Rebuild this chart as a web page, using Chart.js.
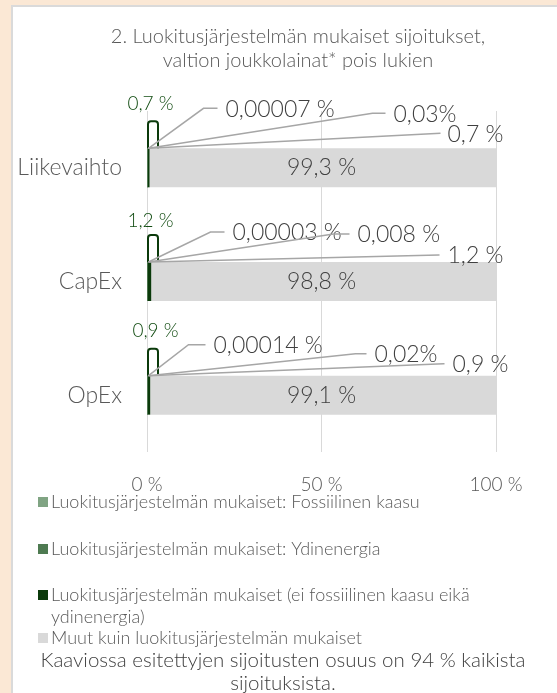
<!DOCTYPE html>
<html lang="fi">
<head>
<meta charset="UTF-8">
<title>Luokitusjärjestelmän mukaiset sijoitukset</title>
<script src="https://cdn.jsdelivr.net/npm/chart.js@4.4.1/dist/chart.umd.min.js"></script>
<style>
  html, body { margin: 0; padding: 0; background: #fbe8d5; }
  canvas { display: block; }
</style>
</head>
<body>
<canvas id="chart" width="557" height="693"></canvas>
<script>
// data
const categories = ['Liikevaihto', 'CapEx', 'OpEx'];
const fossilGas = [0.00007, 0.00003, 0.00014];
const nuclear = [0.03, 0.008, 0.02];
const alignedOther = [0.7, 1.2, 0.9];
const notAligned = [99.3, 98.8, 99.1];

const fossilLabels = ['0,00007 %', '0,00003 %', '0,00014 %'];
const nuclearLabels = ['0,03%', '0,008 %', '0,02%'];
const alignedLabels = ['0,7 %', '1,2 %', '0,9 %'];
const notAlignedLabels = ['99,3 %', '98,8 %', '99,1 %'];
const xTicks = [0, 50, 100];

const seriesNames = [
  'Luokitusjärjestelmän mukaiset: Fossiilinen kaasu',
  'Luokitusjärjestelmän mukaiset: Ydinenergia',
  'Luokitusjärjestelmän mukaiset (ei fossiilinen kaasu eikä ydinenergia)',
  'Muut kuin luokitusjärjestelmän mukaiset'
];
const titleLines = ['2. Luokitusjärjestelmän mukaiset sijoitukset,', 'valtion joukkolainat* pois lukien'];
const footLines = ['Kaaviossa esitettyjen sijoitusten osuus on 94 % kaikista', 'sijoituksista.'];

// label placement (px from bar start / bar top): elbow dx, elbow dy, text dx
const calloutLayout = [
  [[56, -40, 78], [225, -35, 246], [293, -15, 300]],
  [[63, -30, 85], [186, -28, 210], [291, -7, 300]],
  [[41, -31, 66], [208, -22, 227], [296, -12, 305]]
];
const greenLabelOffset = [[3, -44], [3, -41], [8, -45]];

const FONT = 'Lato';
const GREY = '#595959';
const DARK = '#404040';

Chart.defaults.font.family = FONT;

const panel = {
  id: 'panel',
  beforeDraw(chart) {
    const ctx = chart.ctx;
    ctx.save();
    ctx.fillStyle = '#fbe8d5';
    ctx.fillRect(0, 0, chart.width, chart.height);
    ctx.fillStyle = '#dadada';
    ctx.fillRect(11, 5, chart.width - 11, chart.height - 5);
    ctx.fillStyle = '#ffffff';
    ctx.fillRect(13, 7, chart.width - 13, chart.height - 7);
    ctx.restore();
  }
};

const callouts = {
  id: 'callouts',
  afterDatasetsDraw(chart) {
    const ctx = chart.ctx;
    const sets = [fossilLabels, nuclearLabels, alignedLabels];
    const first = chart.getDatasetMeta(0);
    const last = chart.getDatasetMeta(3);
    const area = chart.chartArea;
    ctx.save();
    categories.forEach((c, i) => {
      const bar = first.data[i];
      const x0 = bar.base;
      const top = bar.y - bar.height / 2;

      // outline of the aligned segment sticking out above the bar
      ctx.strokeStyle = '#0b3a0b';
      ctx.lineWidth = 2;
      ctx.beginPath();
      ctx.moveTo(x0 + 0.5, top);
      ctx.lineTo(x0 + 0.5, top - 24);
      ctx.quadraticCurveTo(x0 + 0.5, top - 27, x0 + 3.5, top - 27);
      ctx.lineTo(x0 + 7.5, top - 27);
      ctx.quadraticCurveTo(x0 + 10.5, top - 27, x0 + 10.5, top - 24);
      ctx.lineTo(x0 + 10.5, top);
      ctx.stroke();

      sets.forEach((labels, d) => {
        const [ex, ey, tx] = calloutLayout[i][d];
        ctx.strokeStyle = '#a6a6a6';
        ctx.lineWidth = 1.5;
        ctx.beginPath();
        ctx.moveTo(x0 + 1, top);
        ctx.lineTo(x0 + ex, top + ey);
        ctx.lineTo(x0 + Math.max(ex, tx - 8), top + ey);
        ctx.stroke();
        ctx.fillStyle = DARK;
        ctx.font = '300 23px ' + FONT;
        ctx.textAlign = 'left';
        ctx.textBaseline = 'middle';
        ctx.fillText(labels[i], x0 + tx, top + ey + 1);
      });

      const [gx, gy] = greenLabelOffset[i];
      ctx.fillStyle = '#134d13';
      ctx.font = '300 19px ' + FONT;
      ctx.textAlign = 'center';
      ctx.fillText(alignedLabels[i], x0 + gx, top + gy);

      const seg = last.data[i];
      ctx.fillStyle = DARK;
      ctx.font = '300 23px ' + FONT;
      ctx.fillText(notAlignedLabels[i], (area.left + Math.min(seg.x, area.right)) / 2, seg.y);
    });
    ctx.restore();
  }
};

function wrap(ctx, text, maxWidth) {
  const words = text.split(' ');
  const lines = [];
  let line = '';
  words.forEach(w => {
    const test = line ? line + ' ' + w : w;
    if (ctx.measureText(test).width > maxWidth && line) {
      lines.push(line);
      line = w;
    } else {
      line = test;
    }
  });
  lines.push(line);
  return lines;
}

const texts = {
  id: 'texts',
  afterDraw(chart) {
    const ctx = chart.ctx;
    ctx.save();
    ctx.textBaseline = 'middle';

    ctx.fillStyle = GREY;
    ctx.font = '300 20px ' + FONT;
    ctx.textAlign = 'center';
    titleLines.forEach((t, k) => ctx.fillText(t, 298, 37 + k * 24));

    // legend
    const legendY = [502, 549, 595, 638];
    ctx.font = '300 18px ' + FONT;
    ctx.textAlign = 'left';
    chart.data.datasets.forEach((ds, k) => {
      ctx.fillStyle = ds.backgroundColor;
      ctx.fillRect(38, legendY[k] - 5, 10, 10);
      ctx.fillStyle = GREY;
      wrap(ctx, ds.label, 440).forEach((l, j) => {
        ctx.fillText(l, 51, legendY[k] + j * 22);
      });
    });

    ctx.fillStyle = DARK;
    ctx.font = '300 20.5px ' + FONT;
    ctx.textAlign = 'center';
    footLines.forEach((t, k) => ctx.fillText(t, 283, 660 + k * 23));
    ctx.restore();
  }
};

new Chart(document.getElementById('chart'), {
  type: 'bar',
  data: {
    labels: categories,
    datasets: [
      { label: seriesNames[0], data: fossilGas, backgroundColor: '#80a483' },
      { label: seriesNames[1], data: nuclear, backgroundColor: '#4e7a51' },
      { label: seriesNames[2], data: alignedOther, backgroundColor: '#0b3a0b' },
      { label: seriesNames[3], data: notAligned, backgroundColor: '#d9d9d9' }
    ]
  },
  options: {
    indexAxis: 'y',
    responsive: false,
    animation: false,
    datasets: { bar: { barPercentage: 0.343, categoryPercentage: 1, borderWidth: 0 } },
    layout: { padding: { left: 11, top: 111, right: 61, bottom: 201 } },
    plugins: {
      legend: { display: false },
      title: { display: false },
      tooltip: { enabled: false }
    },
    scales: {
      x: {
        stacked: true,
        min: 0,
        max: 100,
        afterBuildTicks: scale => { scale.ticks = xTicks.map(v => ({ value: v })); },
        afterFit: scale => { scale.height = 40; },
        grid: { color: '#d9d9d9', lineWidth: 1, drawTicks: false },
        border: { display: false },
        ticks: {
          padding: 21,
          color: GREY,
          font: { size: 19, weight: 300 },
          callback: v => v + ' %'
        }
      },
      y: {
        stacked: true,
        afterFit: scale => { scale.width = 136; },
        grid: { display: false, drawTicks: false },
        border: { display: false },
        ticks: { padding: 25, color: GREY, font: { size: 23, weight: 300 } }
      }
    }
  },
  plugins: [panel, callouts, texts]
});
</script>
</body>
</html>
